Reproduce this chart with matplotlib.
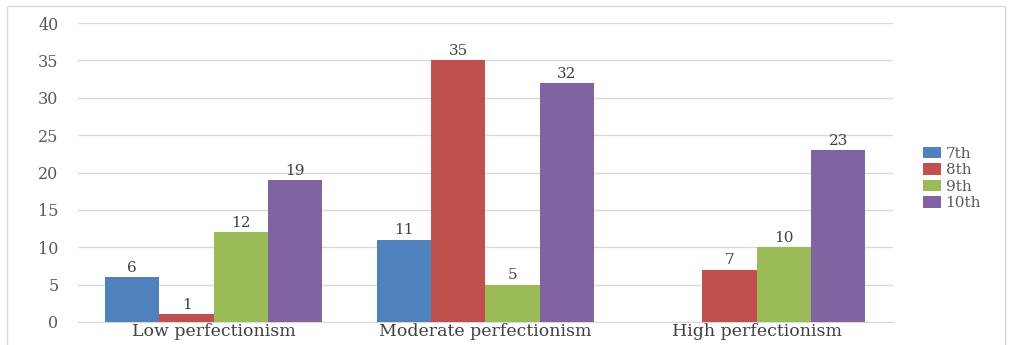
import numpy as np
import matplotlib.pyplot as plt
from matplotlib.patches import Rectangle

categories = ["Low perfectionism", "Moderate perfectionism", "High perfectionism"]
grades = ["7th", "8th", "9th", "10th"]
grade_7 = [6, 11, None]
grade_8 = [1, 35, 7]
grade_9 = [12, 5, 10]
grade_10 = [19, 32, 23]
y_ticks = [0, 5, 10, 15, 20, 25, 30, 35, 40]

series = [grade_7, grade_8, grade_9, grade_10]
colors = ["#4F81BD", "#C0504D", "#9BBB59", "#8064A2"]

plt.rcParams["font.family"] = ["DejaVu Serif"]

fig = plt.figure(figsize=(10.12, 3.45), dpi=100)
ax = fig.add_axes([0.077, 0.067, 0.805, 0.866])

# light frame around the whole chart area
fig.patches.append(Rectangle((0.007, -0.1), 0.986, 1.083, transform=fig.transFigure,
                             fill=False, edgecolor="#d9d9d9", linewidth=1.0))

x = np.arange(len(categories))
width = 0.2
for i, (vals, name, c) in enumerate(zip(series, grades, colors)):
    pos = x + (i - 1.5) * width
    heights = [v if v is not None else 0 for v in vals]
    bars = ax.bar(pos, heights, width, color=c, label=name, zorder=3)
    for b, v in zip(bars, vals):
        if v is None:
            b.set_visible(False)
            continue
        ax.text(b.get_x() + b.get_width() / 2, v + 0.3, str(v), ha="center", va="bottom",
                fontsize=11, color="#404040")

ax.set_xlim(-0.5, 2.5)
ax.set_ylim(0, 40)
ax.set_yticks(y_ticks)
ax.set_yticklabels([str(t) for t in y_ticks], fontsize=11.5, color="#595959")
ax.set_xticks(x)
ax.set_xticklabels(categories, fontsize=12.5, color="#404040")
ax.tick_params(axis="both", length=0)
ax.tick_params(axis="y", pad=14)
ax.tick_params(axis="x", pad=1)

ax.grid(axis="y", color="#d9d9d9", linewidth=1.0, zorder=0)
for s in ["top", "right", "left"]:
    ax.spines[s].set_visible(False)
ax.spines["bottom"].set_color("#d9d9d9")

ax.legend(loc="center left", bbox_to_anchor=(1.02, 0.48), frameon=False,
          fontsize=11, handlelength=1.2, handleheight=0.8, handletextpad=0.3,
          labelspacing=0.15, labelcolor="#595959")

fig.savefig("out.png", dpi=100)
